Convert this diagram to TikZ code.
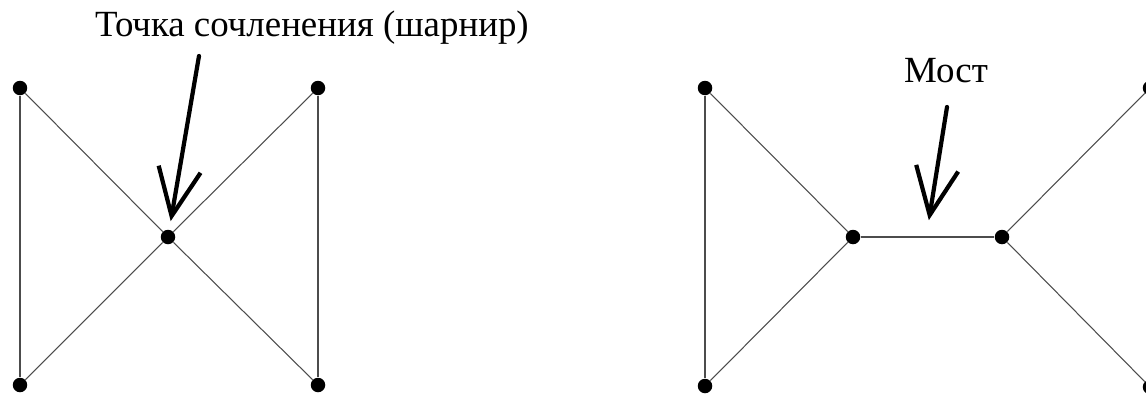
\documentclass[tikz,border=0pt]{standalone}
\usepackage{fontspec}
\setmainfont{Liberation Serif}
\usepackage{tikz}
\usetikzlibrary{arrows.meta}

\begin{document}
\begin{tikzpicture}[
  x=0.02cm, y=-0.02cm,
  vtx/.style={circle, fill=black, inner sep=0pt, minimum size=0.29cm},
  edge/.style={draw=black!70, line width=0.6pt},
  ptr/.style={draw=black, line width=2.4pt, line cap=round,
              -{Straight Barb[length=9.5mm, width=8.5mm, line width=2.4pt]}},
  lbl/.style={font=\fontsize{21}{24}\selectfont, inner sep=0pt, anchor=base}
]
\useasboundingbox (0,0) rectangle (1146,396);

%% ---- left graph: hinge ----
\node[vtx] (ltl) at (20,88) {};
\node[vtx] (ltr) at (318,88) {};
\node[vtx] (hinge) at (168,237) {};
\node[vtx] (lbl) at (20,385) {};
\node[vtx] (lbr) at (318,385) {};

\draw[edge] (ltl) -- (lbl);
\draw[edge] (ltr) -- (lbr);
\draw[edge] (ltl) -- (hinge) -- (lbr);
\draw[edge] (ltr) -- (hinge) -- (lbl);

%% ---- right graph: bridge ----
\node[vtx] (rtl) at (705,88) {};
\node[vtx] (rbl) at (705,386) {};
\node[vtx] (bl) at (853,237) {};
\node[vtx] (br) at (1002,237) {};
\node[vtx] (rtr) at (1150,88) {};
\node[vtx] (rbr) at (1150,387) {};

\draw[edge] (rtl) -- (rbl);
\draw[edge] (rtl) -- (bl) -- (rbl);
\draw[edge] (bl) -- (br)
  coordinate[pos=0.49] (bridgeMid);
\draw[edge] (rtr) -- (br) -- (rbr);

%% ---- labels and pointers ----
\node[lbl] (hingeLbl) at (312,36) {Точка сочленения (шарнир)};
\node[lbl] (bridgeLbl) at (946,82) {Мост};

\coordinate (hingeTail) at (199,56);
\coordinate (bridgeTail) at (947,107);

\draw[ptr, shorten >=0.17cm] (hingeTail) -- (hinge);
\draw[ptr, shorten >=0.34cm] (bridgeTail) -- (bridgeMid);

\end{tikzpicture}
\end{document}
